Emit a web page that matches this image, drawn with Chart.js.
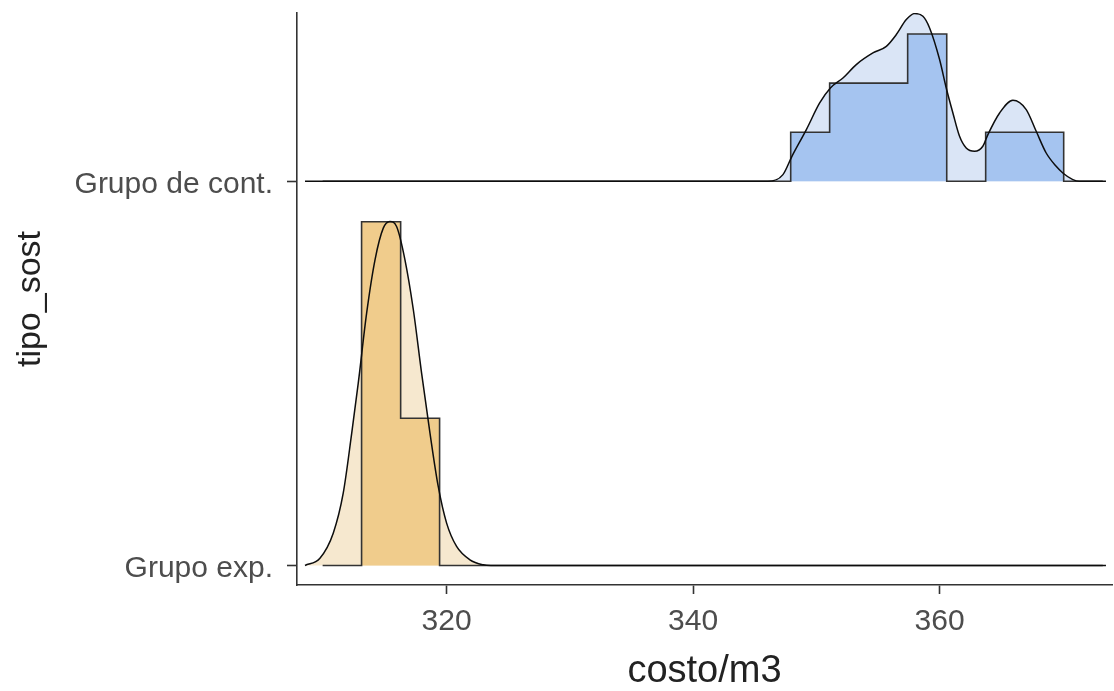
<!DOCTYPE html>
<html>
<head>
<meta charset="utf-8">
<script src="https://cdn.jsdelivr.net/npm/chart.js@4"></script>
<style>
  html, body { margin: 0; padding: 0; background: #ffffff; }
  #wrap { width: 1114px; height: 691px; }
</style>
</head>
<body>
<div id="wrap"><canvas id="chart" width="1114" height="691"></canvas></div>
<script>
// Ridgeline groups (bottom to top) and x-axis ticks
const groups = ['Grupo exp.', 'Grupo de cont.'];
const xTicks = [320, 340, 360];

// Shared histogram bin edges (costo/m3)
const binEdges = [309.94, 313.10, 316.27, 319.43, 322.60, 325.76, 328.93, 332.09, 335.26, 338.42,
                  341.59, 344.75, 347.92, 351.08, 354.25, 357.41, 360.58, 363.74, 366.91, 370.07, 373.24];

// Counts per bin
const countsExp  = [0, 7, 3, 0, 0, 0, 0, 0, 0, 0, 0, 0, 0, 0, 0, 0, 0, 0, 0, 0];
const countsCont = [0, 0, 0, 0, 0, 0, 0, 0, 0, 0, 0, 0, 1, 2, 2, 3, 0, 1, 1, 0];

// Kernel density outline, expressed on the same scale as the counts
const densExpX = [308.51, 309.72, 310.80, 311.61, 312.30, 312.83, 313.51, 314.19, 314.86, 315.40,
                  315.94, 316.62, 317.30, 317.97, 318.65, 319.32, 320.00, 320.81, 321.89, 322.97, 323.60, 373.50];
const densExpY = [0, 0.149, 0.658, 1.473, 2.695, 3.713, 5.139, 6.226, 6.870, 7.006,
                  6.904, 6.226, 5.208, 3.916, 2.695, 1.609, 0.862, 0.387, 0.116, 0.014, 0, 0];

const densContX = [308.51, 346.07, 347.29, 348.02, 349.19, 350.27, 351.14, 352.16, 353.24, 354.59,
                   355.68, 356.49, 357.30, 357.97, 358.65, 359.19, 360.00, 360.54, 361.08, 361.62,
                   362.16, 362.84, 363.51, 363.92, 364.87, 365.95, 367.03, 367.84, 368.65, 369.46,
                   370.00, 370.81, 371.35, 373.50];
const densContY = [0, 0, 0.136, 0.509, 1.053, 1.595, 1.900, 2.104, 2.377, 2.613,
                   2.749, 2.988, 3.293, 3.415, 3.360, 3.122, 2.479, 1.900, 1.391, 0.916,
                   0.678, 0.611, 0.713, 0.951, 1.391, 1.650, 1.460, 1.018, 0.576, 0.305,
                   0.169, 0.035, 0, 0];

// Height of one count, in units of the spacing between ridges
const ridgeScale = 0.1278;

function histPoints(counts, base) {
  return binEdges.map((e, i) => ({ x: e, y: base + (i < counts.length ? counts[i] : 0) * ridgeScale }));
}
function densPoints(xs, ys, base) {
  return xs.map((x, i) => ({ x: x, y: base + ys[i] * ridgeScale }));
}

const palette = {
  exp:  { dens: 'rgb(246,232,207)', hist: 'rgb(240,204,140)' },
  cont: { dens: 'rgb(218,229,246)', hist: 'rgb(165,196,240)' }
};

// Each ridge: density fill, histogram fill, histogram outline, density outline (bottom to top)
function ridgeDatasets(base, counts, dx, dy, col) {
  const dens = densPoints(dx, dy, base);
  const hist = histPoints(counts, base);
  return [
    { data: dens, fill: { value: base }, backgroundColor: col.dens, borderWidth: 0, borderColor: 'rgba(0,0,0,0)',
      pointRadius: 0, cubicInterpolationMode: 'monotone', order: 4 },
    { data: hist, fill: { value: base }, backgroundColor: col.hist, borderWidth: 0, borderColor: 'rgba(0,0,0,0)',
      pointRadius: 0, stepped: 'before', order: 3 },
    { data: hist, fill: false, borderColor: '#333333', borderWidth: 1.6,
      pointRadius: 0, stepped: 'before', order: 2 },
    { data: dens, fill: false, borderColor: '#0d0d0d', borderWidth: 1.5,
      pointRadius: 0, cubicInterpolationMode: 'monotone', order: 1 }
  ];
}

const datasets = [
  ...ridgeDatasets(0, countsExp, densExpX, densExpY, palette.exp),
  ...ridgeDatasets(1, countsCont, densContX, densContY, palette.cont)
];

const fontFamily = 'Liberation Sans, Arial, sans-serif';

new Chart(document.getElementById('chart'), {
  type: 'line',
  data: { datasets },
  options: {
    responsive: false,
    animation: false,
    events: [],
    layout: { padding: { left: 0, top: 13, right: 2, bottom: 0 } },
    plugins: { legend: { display: false }, tooltip: { enabled: false } },
    scales: {
      x: {
        type: 'linear',
        min: 307.86,
        max: 373.99,
        afterBuildTicks: (s) => { s.ticks = xTicks.map(v => ({ value: v })); },
        afterFit: (s) => { s.height = 106; s.paddingLeft = 0; s.paddingRight = 0; },
        grid: { display: true, drawOnChartArea: false, drawTicks: true, tickLength: 9, tickColor: '#333333', tickWidth: 1.6 },
        border: { display: true, color: '#333333', width: 1.6 },
        ticks: { color: '#4d4d4d', padding: 10, font: { family: fontFamily, size: 30 } },
        title: { display: true, text: 'costo/m3', color: '#222222', padding: { top: 0, bottom: 0 },
                 font: { family: fontFamily, size: 38, lineHeight: 1.0 } }
      },
      y: {
        type: 'linear',
        min: -0.0508,
        max: 1.438,
        afterBuildTicks: (s) => { s.ticks = groups.map((g, i) => ({ value: i })); },
        afterFit: (s) => { s.width = 297; s.paddingTop = 0; s.paddingBottom = 0; },
        grid: { display: true, drawOnChartArea: false, drawTicks: true, tickLength: 10, tickColor: '#333333', tickWidth: 1.6 },
        border: { display: true, color: '#333333', width: 1.6 },
        ticks: { color: '#4d4d4d', padding: 14, labelOffset: 3,
                 font: { family: fontFamily, size: 30 },
                 callback: (v) => groups[Math.round(v)] },
        title: { display: true, text: 'tipo_sost', color: '#222222', padding: { top: 14, bottom: 0 },
                 font: { family: fontFamily, size: 34, lineHeight: 1.0 } }
      }
    }
  }
});
</script>
</body>
</html>
